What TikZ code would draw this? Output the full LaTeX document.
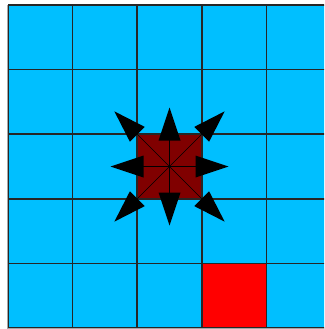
\documentclass[tikz,border=0pt]{standalone}
\usetikzlibrary{calc}
\definecolor{cellblue}{RGB}{0,191,255}
\definecolor{cellred}{RGB}{255,0,0}
\definecolor{agent}{RGB}{128,0,0}
\tikzset{
  gridline/.style={draw=black!85, line width=1.6pt},
  axisline/.style={draw=gray!70, line width=0.9pt},
  shaft/.style={draw=black, line width=0.6pt},
  arrowhead/.style={fill=black},
}
% angle, shaft end, head base, head tip, head half-width
\newcommand{\dirarrow}[5]{%
  \begin{scope}[shift={(169.5,166.5)}, rotate=#1]
    \draw[shaft] (0,0) -- (#2,0);
    \fill[arrowhead] (#3,-#5) -- (#4,0) -- (#3,#5) -- cycle;
  \end{scope}}
\begin{document}
\begin{tikzpicture}[x=1pt,y=-1pt]
  \useasboundingbox (0,0) rectangle (324,329);
  \begin{scope}
    \clip (0,0) rectangle (324,329);
    % cells
    \fill[cellblue] (8,5) rectangle (331,328);
    \fill[cellred] (201.8,263.4) rectangle (266.4,328);
    \fill[agent] (137.2,134.2) rectangle (201.8,198.8);
    % grid
    \foreach \k in {0,...,5} {
      \draw[gridline] ({8+64.6*\k},5) -- ({8+64.6*\k},328);
      \draw[gridline] (8,{5+64.6*\k}) -- (331,{5+64.6*\k});
    }
    % axis spines and ticks
    \draw[axisline] (7.5,5) -- (7.5,328.5);
    \draw[axisline] (7.5,328.5) -- (331,328.5);
    \foreach \k in {0,...,4} {
      \draw[axisline] ({40.3+64.6*\k},328) -- ({40.3+64.6*\k},331);
    }
    % arrows
    \foreach \a in {0,90,180,270} { \dirarrow{\a}{32}{26}{59}{11} }
    \foreach \a in {45,135,225,315} { \dirarrow{\a}{45.5}{45.5}{78}{10.5} }
  \end{scope}
\end{tikzpicture}
\end{document}
